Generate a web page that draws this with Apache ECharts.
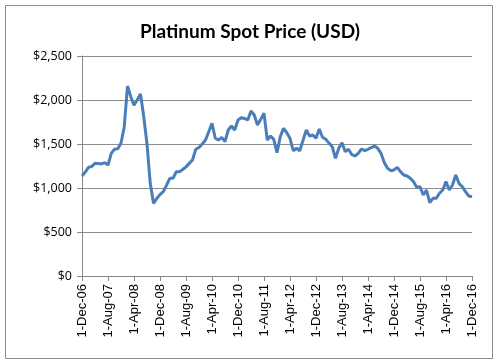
<!DOCTYPE html>
<html><head><meta charset="utf-8">
<script src="https://cdn.jsdelivr.net/npm/echarts@6/dist/echarts.min.js"></script>
<style>html,body{margin:0;padding:0;background:#fff}#c{width:500px;height:364px}</style>
</head><body><div id="c"></div>
<script>
const title = "Platinum Spot Price (USD)";
const startYear = 2006, startMonth = 11; // Dec 2006
const monthNames = ["Jan","Feb","Mar","Apr","May","Jun","Jul","Aug","Sep","Oct","Nov","Dec"];
const prices = [
1136,1180,1235,1245,1280,1278,1273,1288,1261,1394,1440,1447,
1508,1697,2159,2038,1940,2000,2068,1810,1500,1053,826,880,
925,958,1030,1110,1110,1185,1185,1210,1240,1280,1318,1440,
1460,1500,1545,1640,1735,1565,1545,1576,1526,1659,1705,1659,
1773,1799,1790,1773,1875,1830,1716,1780,1849,1545,1591,1553,
1401,1583,1678,1629,1565,1424,1451,1424,1540,1659,1591,1602,
1565,1670,1576,1553,1510,1469,1337,1451,1515,1413,1440,1380,
1364,1394,1443,1424,1440,1460,1477,1451,1394,1290,1224,1197,
1205,1235,1186,1148,1136,1110,1072,1008,1015,920,977,833,
883,883,940,977,1072,977,1034,1148,1053,1015,958,909,901];
const yTicks = [0,500,1000,1500,2000,2500];

const categories = prices.map((_, i) => {
  const m = (startMonth + i) % 12;
  const y = startYear + Math.floor((startMonth + i) / 12);
  return "1-" + monthNames[m] + "-" + String(y % 100).padStart(2, "0");
});

const chart = echarts.init(document.getElementById('c'), null, {renderer:'canvas'});
chart.setOption({
  animation: false,
  backgroundColor: '#fff',
  title: {
    text: title, left: 'center', top: 17,
    textStyle: {fontFamily: 'Lato', fontWeight: 'bold', fontSize: 19, color: '#000'}
  },
  graphic: [{
    type: 'rect', shape: {x: 5.5, y: 5.5, width: 487, height: 353},
    style: {fill: 'none', stroke: '#8c8c8c', lineWidth: 1}, silent: true
  }],
  grid: {left: 82, right: 28, top: 56, bottom: 88, containLabel: false},
  xAxis: {
    type: 'category', data: categories, boundaryGap: false,
    axisLine: {lineStyle: {color: '#888', width: 1}},
    axisTick: {show: true, interval: 7, length: 5, lineStyle: {color: '#888'}},
    axisLabel: {interval: 7, rotate: 90, fontFamily: 'Liberation Sans', fontSize: 13, color: '#000', margin: 8},
    splitLine: {show: false}
  },
  yAxis: {
    type: 'value', min: yTicks[0], max: yTicks[yTicks.length-1], interval: 500,
    axisLine: {show: true, lineStyle: {color: '#888', width: 1}},
    axisTick: {show: true, length: 5, lineStyle: {color: '#888'}},
    axisLabel: {fontFamily: 'Open Sans', fontSize: 12.5, color: '#000', margin: 10,
      formatter: v => '$' + v.toLocaleString('en-US')},
    splitLine: {show: true, lineStyle: {color: '#8c8c8c', width: 1}}
  },
  series: [{
    type: 'line', data: prices, showSymbol: false, symbol: 'none',
    lineStyle: {color: '#4a7ebb', width: 3}, smooth: false
  }]
});
</script></body></html>
